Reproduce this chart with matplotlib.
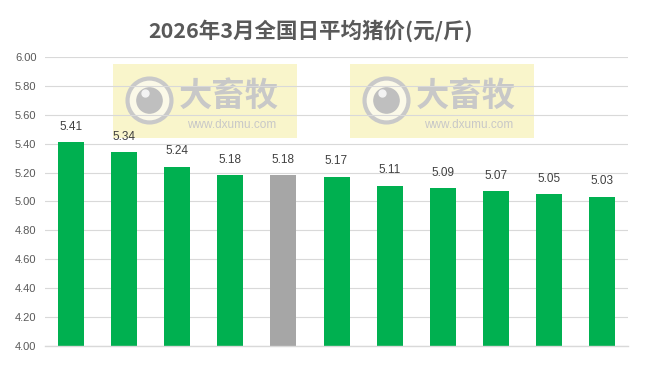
import numpy as np
import matplotlib
matplotlib.use('Agg')
import matplotlib.pyplot as plt
from matplotlib.patches import Rectangle

plt.rcParams['font.family'] = ['Noto Sans CJK SC', 'DejaVu Sans']

# data
prices = [5.41, 5.34, 5.24, 5.18, 5.18, 5.17, 5.11, 5.09, 5.07, 5.05, 5.03]
highlight_idx = 4
yticks = [4.00, 4.20, 4.40, 4.60, 4.80, 5.00, 5.20, 5.40, 5.60, 5.80, 6.00]
title = '2026年3月全国日平均猪价(元/斤)'

green = '#00B050'
grey_bar = '#A6A6A6'
txt = '#595959'

fig = plt.figure(figsize=(6.49, 3.70), dpi=100)
ax = fig.add_axes([0.069, 0.065, 0.899, 0.781])

x = np.arange(len(prices))
colors = [grey_bar if i == highlight_idx else green for i in range(len(prices))]
ax.bar(x, np.array(prices) - 4.0, bottom=4.0, width=0.49, color=colors, zorder=2)

for xi, v in zip(x, prices):
    ax.annotate('%.2f' % v, (xi, v), xytext=(0, 7), textcoords='offset points',
                ha='center', va='bottom', fontsize=8.5, color='#404040',
                family=['Liberation Sans', 'DejaVu Sans'])

ax.set_xlim(-0.5, len(prices) - 0.5)
ax.set_ylim(4.0, 6.0)
ax.set_yticks(yticks)
ax.set_yticklabels(['%.2f' % t for t in yticks], fontsize=8, color=txt,
                   family=['Liberation Sans', 'DejaVu Sans'])
ax.set_xticks([])
ax.tick_params(axis='y', length=0, pad=6)
ax.set_axisbelow(True)
ax.grid(axis='y', color='#D9D9D9', lw=0.8, zorder=0.5)
for s in ['left', 'right', 'top']:
    ax.spines[s].set_visible(False)
ax.spines['bottom'].set_color('#D9D9D9')
ax.spines['bottom'].set_linewidth(1.0)

# watermarks
for x0 in [0.117, 0.523]:
    ax.add_patch(Rectangle((x0, 0.72), 0.315, 0.255, transform=ax.transAxes,
                           facecolor='#F8F4C2', edgecolor='none', alpha=0.85, zorder=0.2))
    cx = x0 + 0.062
    ax.scatter([cx], [0.85], s=1000, transform=ax.transAxes, facecolor='#FBF9E8',
               edgecolor='#C9C9C9', linewidth=3, zorder=0.3)
    ax.scatter([cx], [0.85], s=330, transform=ax.transAxes, color='#BFBFBF', zorder=0.35)
    ax.scatter([cx - 0.007], [0.875], s=25, transform=ax.transAxes, color='#F3F3F3', zorder=0.36)
    ax.text(x0 + 0.198, 0.865, '大畜牧', transform=ax.transAxes, ha='center', va='center',
            fontsize=24, fontweight='bold', color='#C8C8C8', zorder=0.3)
    ax.text(x0 + 0.203, 0.765, 'www.dxumu.com', transform=ax.transAxes, ha='center',
            va='center', fontsize=8.5, color='#C8C8C8', zorder=0.3,
            family=['Liberation Sans', 'DejaVu Sans'])

fig.text(0.479, 0.916, title, ha='center', va='center', fontsize=15.5,
         fontweight='bold', color=txt)

fig.savefig('out.png', dpi=100)
